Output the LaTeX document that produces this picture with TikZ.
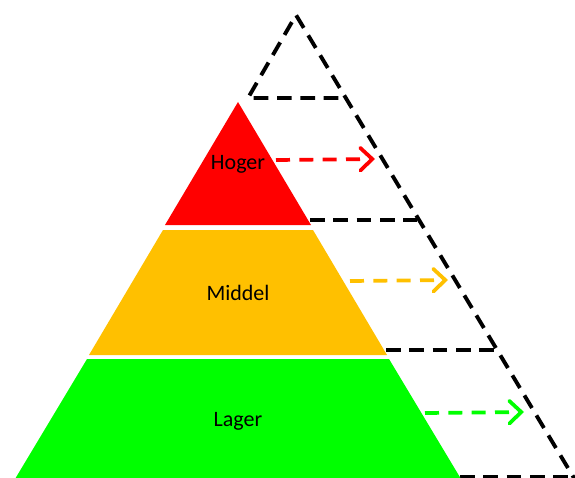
\documentclass[tikz,border=0pt]{standalone}
\usepackage{fontspec}
\setmainfont{Carlito}
\usetikzlibrary{arrows.meta}
\definecolor{cred}{HTML}{FF0000}
\definecolor{corange}{HTML}{FFC000}
\definecolor{cgreen}{HTML}{00FF00}
\begin{document}
\begin{tikzpicture}[x=0.75pt,y=-0.75pt,
  blackdash/.style={draw=black,line width=2.9pt,dash pattern=on 11pt off 6.5pt},
  arrowdash/.style={line width=2.8pt,dash pattern=on 10.5pt off 7pt,
     -{Straight Barb[length=9pt,width=17pt,line width=2.8pt,line cap=round]}},
  label/.style={font=\fontsize{16.5}{18}\selectfont,text=black,inner sep=0pt}]
\useasboundingbox (0,0) rectangle (575,478);
\begin{scope}
\clip (0,0) rectangle (575,478);
% dashed outline
\coordinate (A) at (296,15);
\coordinate (L) at (248,98);
\coordinate (R) at (580,488);
\draw[blackdash] (R) -- (A) -- (L) -- (345,98);
\draw[blackdash] (310,220) -- (417,220);
\draw[blackdash] (386,350) -- (494,350);
\draw[blackdash] (460,477) -- (580,477);
% pyramid
\fill[cred] (238,102) -- (311,225) -- (165,225) -- cycle;
\fill[corange] (163,230) -- (313,230) -- (387,355) -- (89,355) -- cycle;
\fill[cgreen] (87,359) -- (389,359) -- (461,479) -- (15,479) -- cycle;
\end{scope}
\node[label] (h) at (238,164) {Hoger};
\node[label] (m) at (238,293) {Middel};
\node[label] (l) at (238,421) {Lager};
\coordinate (h1) at (276,160);
\coordinate (h2) at (375,159);
\coordinate (m1) at (350,281);
\coordinate (m2) at (448,280);
\coordinate (l1) at (425,413);
\coordinate (l2) at (524,412);
\draw[arrowdash,cred] (h1) -- (h2);
\draw[arrowdash,corange] (m1) -- (m2);
\draw[arrowdash,cgreen] (l1) -- (l2);
\end{tikzpicture}
\end{document}
